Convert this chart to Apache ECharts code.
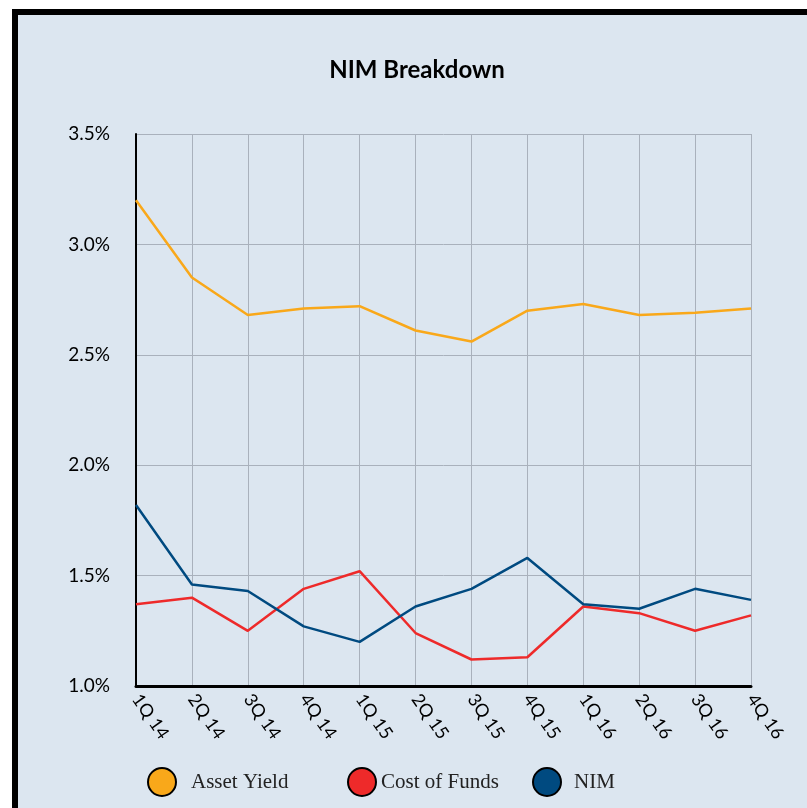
<!DOCTYPE html>
<html>
<head>
<meta charset="utf-8">
<script src="https://cdn.jsdelivr.net/npm/echarts@6/dist/echarts.min.js"></script>
<style>
html,body{margin:0;padding:0;background:#ffffff;width:807px;height:808px;overflow:hidden;}
#bg{position:absolute;left:12px;top:9px;width:789px;height:793px;background:#dce6f0;border-left:6px solid #000;border-top:6px solid #000;}
#chart{position:absolute;left:0;top:0;width:807px;height:808px;}
</style>
</head>
<body>
<div id="bg"></div>
<div id="chart"></div>
<script>
const categories = ['1Q 14','2Q 14','3Q 14','4Q 14','1Q 15','2Q 15','3Q 15','4Q 15','1Q 16','2Q 16','3Q 16','4Q 16'];
const assetYield = [3.20, 2.85, 2.68, 2.71, 2.72, 2.61, 2.56, 2.70, 2.73, 2.68, 2.69, 2.71];
const costOfFunds = [1.37, 1.40, 1.25, 1.44, 1.52, 1.24, 1.12, 1.13, 1.36, 1.33, 1.25, 1.32];
const nim = [1.82, 1.46, 1.43, 1.27, 1.20, 1.36, 1.44, 1.58, 1.37, 1.35, 1.44, 1.39];
const yTicks = {min: 1.0, max: 3.5, interval: 0.5};

const colors = {ay: '#F9A81A', cf: '#EE2A2A', nim: '#004A80'};
const chart = echarts.init(document.getElementById('chart'));

function legendAt(left, name, textPad) {
  return {
    data: [name], left: left, top: 762, orient: 'horizontal',
    icon: 'circle', itemWidth: 28, itemHeight: 28,
    itemStyle: {borderColor: '#000', borderWidth: 2},
    textStyle: {fontFamily: 'Liberation Serif', fontSize: 21, color: '#222', padding: [0,0,0,textPad]}
  };
}

chart.setOption({
  backgroundColor: 'transparent',
  animation: false,
  title: {
    text: 'NIM Breakdown', left: 412, top: 53, textAlign: 'center',
    textStyle: {fontFamily: 'Lato', fontWeight: 'bold', fontSize: 24, color: '#000'}
  },
  legend: [
    legendAt(142, 'Asset Yield', 10),
    legendAt(342, 'Cost of Funds', 0),
    legendAt(527, 'NIM', 8)
  ],
  grid: {left: 136, right: 56, top: 134, bottom: 122},
  xAxis: {
    type: 'category', data: categories, boundaryGap: false,
    axisLine: {lineStyle: {color: '#000', width: 3}},
    axisTick: {show: false},
    splitLine: {show: true, lineStyle: {color: '#a9b1bc', width: 1}},
    axisLabel: {rotate: -55, margin: 10, fontFamily: 'Lato', fontSize: 18, color: '#000', interval: 0}
  },
  yAxis: {
    type: 'value', min: yTicks.min, max: yTicks.max, interval: yTicks.interval,
    axisLine: {show: true, lineStyle: {color: '#000', width: 2}},
    axisTick: {show: false},
    splitLine: {show: true, lineStyle: {color: '#a9b1bc', width: 1}},
    axisLabel: {margin: 26, fontFamily: 'Lato', fontSize: 19, color: '#000',
      formatter: v => v.toFixed(1) + '%'}
  },
  series: [
    {name: 'Asset Yield', type: 'line', data: assetYield, showSymbol: false, color: colors.ay, lineStyle: {width: 2.5, color: colors.ay}},
    {name: 'Cost of Funds', type: 'line', data: costOfFunds, showSymbol: false, color: colors.cf, lineStyle: {width: 2.5, color: colors.cf}},
    {name: 'NIM', type: 'line', data: nim, showSymbol: false, color: colors.nim, lineStyle: {width: 2.5, color: colors.nim}}
  ]
});
</script>
</body>
</html>
